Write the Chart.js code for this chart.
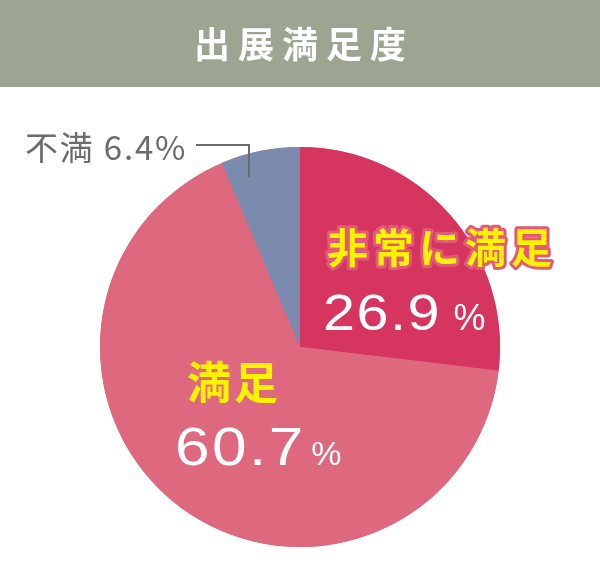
<!DOCTYPE html>
<html>
<head>
<meta charset="utf-8">
<script src="https://cdn.jsdelivr.net/npm/chart.js@4.4.1/dist/chart.umd.min.js"></script>
<style>
  html, body { margin: 0; padding: 0; background: #ffffff; }
  #wrap { width: 600px; height: 565px; position: relative; }
  canvas { display: block; }
</style>
</head>
<body>
<div id="wrap"><canvas id="c" width="600" height="565"></canvas></div>
<script>
// ---- data (clockwise from the 不満 slice, which ends at 12 o'clock) ----
const title = '出展満足度';
const categories = ['不満', '非常に満足', '満足'];
const values = [6.4, 26.9, 60.7];
const sliceColors = ['#7a8bae', '#d5355f', '#de697f'];

const total = values.reduce((a, b) => a + b, 0);

function drawSpaced(ctx, text, x, y, spacing, mode) {
  let cx = x;
  for (const ch of text) {
    if (mode === 'stroke') ctx.strokeText(ch, cx, y);
    else ctx.fillText(ch, cx, y);
    cx += ctx.measureText(ch).width + spacing;
  }
  return cx - spacing;
}
function spacedWidth(ctx, text, spacing) {
  let w = 0, n = 0;
  for (const ch of text) { w += ctx.measureText(ch).width; n++; }
  return w + spacing * (n - 1);
}
function drawScaled(ctx, text, x, y, sx, spacing) {
  ctx.save();
  ctx.translate(x, y);
  ctx.scale(sx, 1);
  const end = drawSpaced(ctx, text, 0, 0, spacing / sx, 'fill');
  ctx.restore();
  return x + end * sx;
}

const decor = {
  id: 'decor',
  beforeDraw(chart) {
    const ctx = chart.ctx;
    ctx.save();
    ctx.fillStyle = '#9ca591';
    ctx.fillRect(0, 0, chart.width, 87);
    ctx.font = 'bold 36px "Noto Sans CJK JP"';
    ctx.fillStyle = '#ffffff';
    ctx.textBaseline = 'middle';
    const tw = spacedWidth(ctx, title, 8);
    drawSpaced(ctx, title, chart.width / 2 - tw / 2, 44, 8, 'fill');
    ctx.restore();
  },
  beforeDatasetsDraw(chart) {
    // unanswered remainder drawn in the 満足 colour, as in the source graphic
    const arc = chart.getDatasetMeta(0).data[0];
    const ctx = chart.ctx;
    ctx.save();
    ctx.fillStyle = sliceColors[2];
    ctx.beginPath();
    ctx.arc(arc.x, arc.y, arc.outerRadius, 0, Math.PI * 2);
    ctx.fill();
    ctx.restore();
  },
  afterDatasetsDraw(chart) {
    const arc = chart.getDatasetMeta(0).data[0];
    const cx = arc.x, cy = arc.y;
    const ctx = chart.ctx;
    ctx.save();
    ctx.textBaseline = 'middle';
    ctx.textAlign = 'left';

    // 非常に満足
    ctx.font = 'bold 41px "Noto Sans CJK JP"';
    ctx.lineJoin = 'round';
    ctx.lineWidth = 6;
    ctx.strokeStyle = '#e4587b';
    drawSpaced(ctx, categories[1], cx + 27, cy - 100, 5, 'stroke');
    ctx.fillStyle = '#fff200';
    drawSpaced(ctx, categories[1], cx + 27, cy - 100, 5, 'fill');

    // 満足
    ctx.font = 'bold 44px "Noto Sans CJK JP"';
    ctx.fillStyle = '#fff200';
    drawSpaced(ctx, categories[2], cx - 113, cy + 35, 3, 'fill');

    // percentages
    ctx.textBaseline = 'alphabetic';
    ctx.fillStyle = '#ffffff';
    ctx.font = '50px "Liberation Sans"';
    let e = drawScaled(ctx, values[1].toFixed(1), cx + 23, cy - 17, 1.15, 1.5);
    ctx.font = '36px "Liberation Sans"';
    drawSpaced(ctx, '%', e + 14, cy - 17, 0, 'fill');

    ctx.font = '54px "Liberation Sans"';
    e = drawScaled(ctx, values[2].toFixed(1), cx - 125, cy + 118, 1.15, 2.5);
    ctx.font = '34px "Liberation Sans"';
    drawSpaced(ctx, '%', e + 8, cy + 118, 0, 'fill');

    // 不満 callout
    ctx.fillStyle = '#6b6b6b';
    ctx.textBaseline = 'middle';
    ctx.font = '33px "Noto Sans CJK JP"';
    drawSpaced(ctx, categories[0] + ' ' + values[0].toFixed(1) + '%', 25, cy - 200, 1.8, 'fill');
    ctx.strokeStyle = '#6b6b6b';
    ctx.lineWidth = 2;
    ctx.lineJoin = 'miter';
    ctx.beginPath();
    ctx.moveTo(196, cy - 202);
    ctx.lineTo(cx - 51, cy - 202);
    ctx.lineTo(cx - 51, cy - 170);
    ctx.stroke();
    ctx.restore();
  }
};

new Chart(document.getElementById('c'), {
  type: 'pie',
  data: {
    labels: categories,
    datasets: [{
      data: values,
      backgroundColor: sliceColors,
      borderWidth: 0,
      hoverOffset: 0
    }]
  },
  options: {
    responsive: false,
    devicePixelRatio: 1,
    animation: false,
    events: [],
    rotation: -values[0] / 100 * 360,
    circumference: total / 100 * 360,
    layout: { padding: { top: 147, bottom: 18, left: 100, right: 100 } },
    plugins: { legend: { display: false }, tooltip: { enabled: false } }
  },
  plugins: [decor]
});
</script>
</body>
</html>
